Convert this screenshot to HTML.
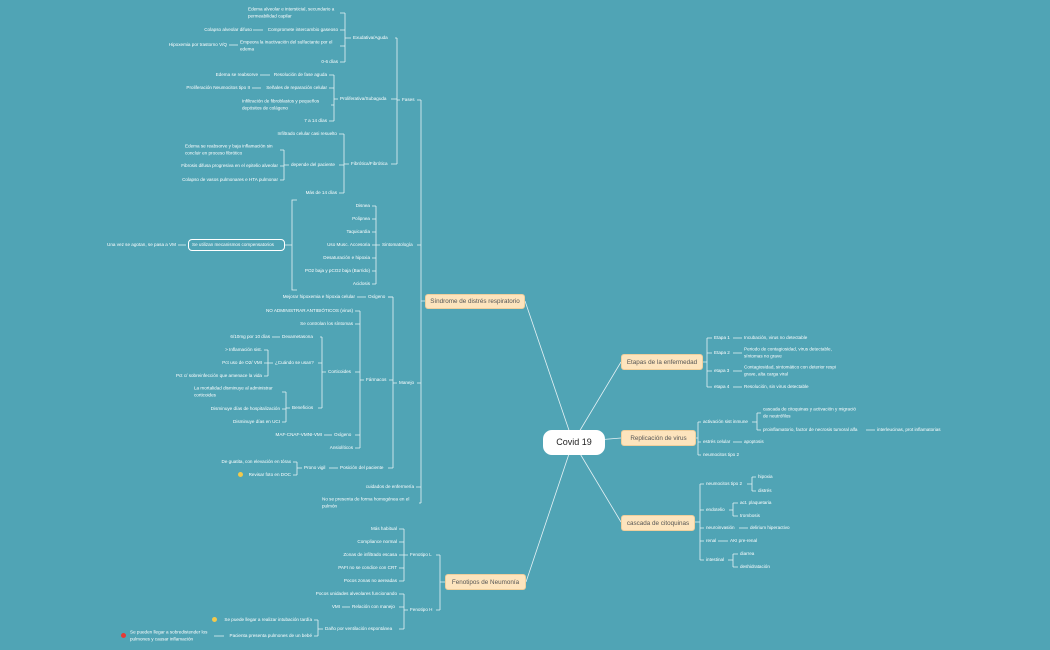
<!DOCTYPE html>
<html><head><meta charset="utf-8"><style>
body{margin:0;width:1050px;height:650px;background:#50a4b5;position:relative;overflow:hidden;font-family:"Liberation Sans",sans-serif}
svg{position:absolute;left:0;top:0}
.t{position:absolute;color:#fff;font-size:4.6px;line-height:6.5px;white-space:nowrap;transform:translateY(-50%)}
.r{text-align:right}
.b{position:absolute;background:#fde4bd;border:1px solid #f0cf9c;border-radius:3px;color:#555;font-size:6.3px;display:flex;align-items:center;justify-content:center;box-sizing:border-box}
.o{position:absolute;border:1px solid #fff;border-radius:4px;box-sizing:border-box}
.dot{position:absolute;width:5px;height:5px;border-radius:50%}
</style></head><body>
<svg width="1050" height="650" fill="none" stroke="#e6f2f5" stroke-width="0.8">
<path d="M525 301 L573 442 M526 582 L573 442 M621 362 L573 442 M621 438 L573 442 M621 522 L573 442"/>
<!-- Exudativa -->
<path d="M340 13 H345 M340 30 H345 M340 46 H345 M340 62 H345 M345 13 V62 M345 38 H351 M253 30 H263 M229 45 H238"/>
<path d="M329 75 H334 M329 88 H334 M331 105 H334 M329 121 H334 M334 75 V121 M334 99 H338 M260 75 H270 M252 88 H261"/>
<path d="M339 134 H344 M339 165 H344 M339 193 H344 M344 134 V193 M344 164 H349"/>
<path d="M280 150 H284 M280 166 H284 M280 180 H284 M284 150 V180 M284 165 H289"/>
<path d="M395 38 H397 M391 99 H397 M391 164 H397 M397 38 V164 M397 100 H400"/>
<path d="M417 100 H421 M417 245 H421 M417 383 H421 M416 487 H421 M419 503 H421 M421 100 V503 M421 301 H425"/>
<path d="M372 206 H376 M372 219 H376 M372 232 H376 M372 245 H376 M372 258 H376 M372 271 H376 M372 284 H376 M376 206 V284 M376 245 H380"/>
<path d="M297 200 H292 V290 H297 M285 245 H292 M178 245 H186"/>
<path d="M357 297 H366 M388 297 H393"/>
<path d="M355 311 H360 M355 324 H360 M355 372 H360 M355 435 H360 M355 448 H360 M360 311 V448 M360 380 H364"/>
<path d="M320 337 H322 M318 363 H322 M318 408 H322 M322 337 V408 M322 372 H326 M272 337 H280"/>
<path d="M264 350 H268 M264 363 H268 M264 376 H268 M268 350 V376 M268 363 H273"/>
<path d="M282 392 H286 M282 409 H286 M282 422 H286 M286 392 V422 M286 408 H290"/>
<path d="M324 435 H332"/>
<path d="M388 297 H393 M389 380 H393 M388 468 H393 M393 297 V468 M393 383 H397"/>
<path d="M293 462 H297 M293 475 H297 M297 462 V475 M297 468 H302 M329 468 H338"/>
<path d="M399 529 H404 M399 542 H404 M399 555 H404 M399 568 H404 M399 581 H404 M404 529 V581 M404 555 H408"/>
<path d="M399 594 H404 M399 607 H404 M399 629 H404 M404 594 V629 M404 610 H408 M342 607 H350"/>
<path d="M436 555 H440 M436 610 H440 M440 555 V610 M440 582 H445"/>
<path d="M314 620 H318 M314 636 H318 M318 620 V636 M318 629 H323 M214 636 H224"/>
<path d="M703 362 H707 M707 338 V387 M707 338 H712 M707 353 H712 M707 371 H712 M707 387 H712 M733 338 H742 M733 353 H742 M733 371 H742 M733 387 H742"/>
<path d="M696 438 H698 M698 422 V455 M698 422 H701 M698 442 H701 M698 455 H701 M733 442 H742"/>
<path d="M752 422 H757 M757 413 V430 M757 413 H761 M757 430 H761 M866 430 H875"/>
<path d="M695 522 H700 M700 484 V560 M700 484 H704 M700 510 H704 M700 528 H704 M700 541 H704 M700 560 H704"/>
<path d="M747 484 H752 M752 477 V491 M752 477 H756 M752 491 H756"/>
<path d="M729 510 H733 M733 503 V516 M733 503 H738 M733 516 H738"/>
<path d="M739 528 H748 M718 541 H728 M728 560 H733 M733 554 V567 M733 554 H738 M733 567 H738"/>
</svg>

<div class="t" style="left:248px;top:13px">Edema alveolar e intersticial, secundario a<br>permeabilidad capilar</div>
<div class="t r" style="right:798px;top:30px">Colapso alveolar difuso</div>
<div class="t r" style="right:712px;top:30px">Compromete intercambio gaseoso</div>
<div class="t r" style="right:823px;top:45px">Hipoxemia por trastorno V/Q</div>
<div class="t" style="left:240px;top:46px">Empeora la inactivación del sulfactante por el<br>edema</div>
<div class="t r" style="right:712px;top:62px">0-6 días</div>
<div class="t" style="left:353px;top:38px">Exudativa/Aguda</div>
<div class="t r" style="right:792px;top:75px">Edema se reabsorve</div>
<div class="t r" style="right:723px;top:75px">Resolución de fase aguda</div>
<div class="t r" style="right:800px;top:88px">Proliferación Neumocitos tipo II</div>
<div class="t r" style="right:723px;top:88px">Señales de reparación celular</div>
<div class="t" style="left:242px;top:105px">Infiltración de fibroblastos y pequeños<br>depósitos de colágeno</div>
<div class="t r" style="right:723px;top:121px">7 a 14 días</div>
<div class="t" style="left:340px;top:99px">Proliferativa/Subaguda</div>
<div class="t r" style="right:713px;top:134px">Infiltrado celular casi resuelto</div>
<div class="t" style="left:185px;top:150px">Edema se reabsorve y baja inflamación sin<br>concluir en proceso fibrótico</div>
<div class="t r" style="right:772px;top:166px">Fibrosis difusa progresiva en el epitelio alveolar</div>
<div class="t r" style="right:772px;top:180px">Colapso de vasos pulmonares e HTA pulmonar</div>
<div class="t" style="left:291px;top:165px">depende del paciente</div>
<div class="t r" style="right:713px;top:193px">Más de 14 días</div>
<div class="t" style="left:351px;top:164px">Fibrótica/Fibrótica</div>
<div class="t" style="left:402px;top:100px">Fases</div>

<div class="t r" style="right:680px;top:206px">Disnea</div>
<div class="t r" style="right:680px;top:219px">Polipnea</div>
<div class="t r" style="right:680px;top:232px">Taquicardia</div>
<div class="t r" style="right:680px;top:245px">Uso Musc. Accesoria</div>
<div class="t r" style="right:680px;top:258px">Desaturación e hipoxia</div>
<div class="t r" style="right:680px;top:271px">PO2 baja y pCO2 baja (Barrido)</div>
<div class="t r" style="right:680px;top:284px">Acidosis</div>
<div class="t" style="left:382px;top:245px">Sintomatología</div>
<div class="o" style="left:188px;top:239px;width:97px;height:12px"></div>
<div class="t" style="left:192px;top:245px">Se utilizan mecanismos compensatorios</div>
<div class="t r" style="right:874px;top:245px">Una vez se agotan, se pasa a VM</div>

<div class="t r" style="right:695px;top:297px">Mejorar hipoxemia e hipoxia celular</div>
<div class="t" style="left:368px;top:297px">Oxígeno</div>
<div class="t r" style="right:697px;top:311px">NO ADMINISTRAR ANTIBIÓTICOS (virus)</div>
<div class="t r" style="right:697px;top:324px">Se controlan los síntomas</div>
<div class="t r" style="right:780px;top:337px">6/10mg por 10 días</div>
<div class="t" style="left:282px;top:337px">Dexametasona</div>
<div class="t r" style="right:788px;top:350px">&gt; Inflamación sist.</div>
<div class="t r" style="right:788px;top:363px">Pct uso de O2/ VMI</div>
<div class="t r" style="right:788px;top:376px">Pct c/ sobreinfección que amenace la vida</div>
<div class="t" style="left:275px;top:363px">¿Cuándo se usan?</div>
<div class="t" style="left:328px;top:372px">Corticoides</div>
<div class="t" style="left:194px;top:392px">La mortalidad disminuye al administrar<br>corticoides</div>
<div class="t r" style="right:770px;top:409px">Disminuye días de hospitalización</div>
<div class="t r" style="right:770px;top:422px">Disminuye días en UCI</div>
<div class="t" style="left:292px;top:408px">Beneficios</div>
<div class="t r" style="right:728px;top:435px">MAF-CNAF-VMNI-VMI</div>
<div class="t" style="left:334px;top:435px">Oxígeno</div>
<div class="t r" style="right:697px;top:448px">Ansiolíticos</div>
<div class="t" style="left:366px;top:380px">Fármacos</div>
<div class="t r" style="right:759px;top:462px">De guatita, con elevación en tórax</div>
<div class="dot" style="left:238px;top:472px;background:#f2c94c"></div>
<div class="t r" style="right:759px;top:475px">Revisar foto en DOC</div>
<div class="t" style="left:304px;top:468px">Prono vigil</div>
<div class="t" style="left:340px;top:468px">Posición del paciente</div>
<div class="t" style="left:399px;top:383px">Manejo</div>
<div class="t r" style="right:636px;top:487px">cuidados de enfermería</div>
<div class="t" style="left:322px;top:503px">No se presenta de forma homogénea en el<br>pulmón</div>
<div class="b" style="left:425px;top:294px;width:100px;height:15px">Síndrome de distrés respiratorio</div>

<div class="t r" style="right:653px;top:529px">Más habitual</div>
<div class="t r" style="right:653px;top:542px">Compliance normal</div>
<div class="t r" style="right:653px;top:555px">Zonas de infiltrado escasa</div>
<div class="t r" style="right:653px;top:568px">PAFI no se condice con CRT</div>
<div class="t r" style="right:653px;top:581px">Pocos zonas no aereadas</div>
<div class="t" style="left:410px;top:555px">Fenotipo L</div>
<div class="t r" style="right:653px;top:594px">Pocos unidades alveolares funcionando</div>
<div class="t r" style="right:710px;top:607px">VMI</div>
<div class="t" style="left:352px;top:607px">Relación con manejo</div>
<div class="t" style="left:325px;top:629px">Daño por ventilación espontánea</div>
<div class="t" style="left:410px;top:610px">Fenotipo H</div>
<div class="b" style="left:445px;top:574px;width:81px;height:16px">Fenotipos de Neumonía</div>
<div class="dot" style="left:212px;top:617px;background:#f2c94c"></div>
<div class="t r" style="right:738px;top:620px">Se puede llegar a realizar intubación tardía</div>
<div class="t r" style="right:738px;top:636px">Pacienta presenta pulmones de un bebé</div>
<div class="dot" style="left:121px;top:633px;background:#e53935"></div>
<div class="t" style="left:130px;top:636px">Se pueden llegar a sobredistender los<br>pulmones y causar inflamación</div>

<div class="o" style="left:543px;top:430px;width:62px;height:25px;background:#fff;border-radius:9px"></div>
<div class="t" style="left:543px;top:442px;width:62px;text-align:center;color:#222;font-size:9px;line-height:10px">Covid 19</div>

<div class="b" style="left:621px;top:354px;width:82px;height:16px">Etapas de la enfermedad</div>
<div class="t" style="left:714px;top:338px">Etapa 1</div>
<div class="t" style="left:744px;top:338px">Incubación, virus no detectable</div>
<div class="t" style="left:714px;top:353px">Etapa 2</div>
<div class="t" style="left:744px;top:353px">Periodo de contagiosidad, virus detectable,<br>síntomas no grave</div>
<div class="t" style="left:714px;top:371px">etapa 3</div>
<div class="t" style="left:744px;top:371px">Contagiosidad, sintomático con deterior respi<br>grave, alta carga viral</div>
<div class="t" style="left:714px;top:387px">etapa 4</div>
<div class="t" style="left:744px;top:387px">Resolución, sin virus detectable</div>

<div class="b" style="left:621px;top:430px;width:75px;height:16px">Replicación de virus</div>
<div class="t" style="left:703px;top:422px">activación sist inmune</div>
<div class="t" style="left:763px;top:413px">cascada de citoquinas y activación y migració<br>de neutrófilos</div>
<div class="t" style="left:763px;top:430px">proinflamatorio, factor de necrosis tumoral alfa</div>
<div class="t" style="left:877px;top:430px">interleucinas, prot inflamatorias</div>
<div class="t" style="left:703px;top:442px">estrés celular</div>
<div class="t" style="left:744px;top:442px">apoptosis</div>
<div class="t" style="left:703px;top:455px">neumocitos tipo 2</div>

<div class="b" style="left:621px;top:515px;width:74px;height:16px">cascada de citoquinas</div>
<div class="t" style="left:706px;top:484px">neumocitos tipo 2</div>
<div class="t" style="left:758px;top:477px">hipoxia</div>
<div class="t" style="left:758px;top:491px">distrés</div>
<div class="t" style="left:706px;top:510px">endotelio</div>
<div class="t" style="left:740px;top:503px">act. plaquetaria</div>
<div class="t" style="left:740px;top:516px">trombosis</div>
<div class="t" style="left:706px;top:528px">neuroinvasión</div>
<div class="t" style="left:750px;top:528px">delirium hiperactivo</div>
<div class="t" style="left:706px;top:541px">renal</div>
<div class="t" style="left:730px;top:541px">AKI pre-renal</div>
<div class="t" style="left:706px;top:560px">intestinal</div>
<div class="t" style="left:740px;top:554px">diarrea</div>
<div class="t" style="left:740px;top:567px">deshidratación</div>
</body></html>
